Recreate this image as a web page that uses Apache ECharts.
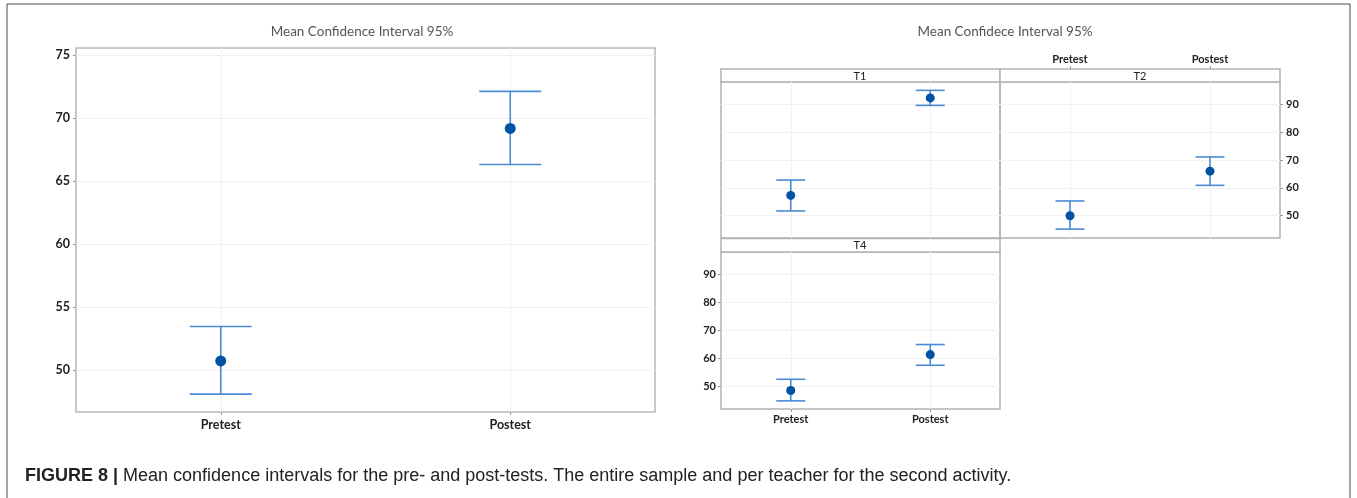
<!DOCTYPE html>
<html>
<head>
<meta charset="utf-8">
<script src="https://cdn.jsdelivr.net/npm/echarts@6/dist/echarts.min.js"></script>
<style>
  html, body { margin: 0; padding: 0; background: #fff; }
  #chart { width: 1357px; height: 498px; }
</style>
</head>
<body>
<div id="chart"></div>
<script>
// 数据
var categories = ['Pretest', 'Postest'];

var allMean = [50.71, 69.19];
var allLower = [48.07, 66.32];
var allUpper = [53.44, 72.13];

var t1Mean = [57.3, 92.3];
var t1Lower = [51.7, 89.6];
var t1Upper = [62.8, 95.0];

var t2Mean = [50.0, 66.0];
var t2Lower = [45.2, 60.9];
var t2Upper = [55.3, 71.1];

var t4Mean = [48.6, 61.4];
var t4Lower = [44.9, 57.6];
var t4Upper = [52.6, 65.0];

var allTicks = [50, 55, 60, 65, 70, 75];
var panelTicks = [50, 60, 70, 80, 90];

var barColor = '#4a8bd4';
var dotColor = '#0052a5';
var gridLineColor = '#f1f1f1';
var borderColor = '#b3b3b3';
var labelFont = 'Lato, "Open Sans", sans-serif';
var captionFont = '"Liberation Sans", Arial, sans-serif';

/**
 * 误差线 custom series
 */
function errorSeries(idx, lower, upper, capHalf) {
    var data = [];
    for (var i = 0; i < categories.length; i++) {
        data.push([i, lower[i], upper[i]]);
    }
    return {
        type: 'custom',
        xAxisIndex: idx,
        yAxisIndex: idx,
        data: data,
        z: 3,
        renderItem: function (params, api) {
            var lo = api.coord([api.value(0), api.value(1)]);
            var hi = api.coord([api.value(0), api.value(2)]);
            var st = { stroke: barColor, lineWidth: 1.6 };
            return {
                type: 'group',
                children: [
                    { type: 'line', shape: { x1: hi[0], y1: hi[1], x2: lo[0], y2: lo[1] }, style: st },
                    { type: 'line', shape: { x1: hi[0] - capHalf, y1: hi[1], x2: hi[0] + capHalf, y2: hi[1] }, style: st },
                    { type: 'line', shape: { x1: lo[0] - capHalf, y1: lo[1], x2: lo[0] + capHalf, y2: lo[1] }, style: st }
                ]
            };
        }
    };
}

function meanSeries(idx, mean, size) {
    return {
        type: 'scatter',
        xAxisIndex: idx,
        yAxisIndex: idx,
        symbolSize: size,
        itemStyle: { color: dotColor, opacity: 1 },
        z: 4,
        data: mean.map(function (v, i) { return [i, v]; }),
        markLine: {
            silent: true,
            symbol: 'none',
            label: { show: false },
            lineStyle: { color: gridLineColor, type: 'solid', width: 1 },
            z: 1,
            data: categories.map(function (c) { return { xAxis: c }; })
        }
    };
}

function xAxisOf(idx, pos, showLabel, fontSize, margin, offset) {
    return {
        type: 'category',
        gridIndex: idx,
        data: categories,
        position: pos,
        offset: offset || 0,
        boundaryGap: true,
        axisLine: { show: false },
        axisTick: { show: showLabel, alignWithLabel: true, length: 3, lineStyle: { color: '#999' } },
        axisLabel: {
            show: showLabel, margin: margin, color: '#222',
            fontFamily: labelFont, fontWeight: 'bold', fontSize: fontSize
        },
        splitLine: { show: false }
    };
}

function yAxisOf(idx, pos, showLabel, min, max, ticks, fontSize, margin) {
    return {
        type: 'value',
        gridIndex: idx,
        position: pos,
        min: min,
        max: max,
        axisLine: { show: false },
        axisTick: { show: showLabel, length: 3, customValues: ticks, lineStyle: { color: '#999' } },
        axisLabel: {
            show: showLabel, customValues: ticks, margin: margin, color: '#222',
            fontFamily: labelFont, fontWeight: 'bold', fontSize: fontSize
        },
        splitLine: { show: true, lineStyle: { color: gridLineColor, width: 1 } }
    };
}

var myChart = echarts.init(document.getElementById('chart'));

var option = {
    backgroundColor: '#fff',
    animation: false,
    title: [
        {
            text: 'Mean Confidence Interval 95%', left: 357, top: 20, textAlign: 'center',
            textStyle: { fontFamily: labelFont, fontWeight: 'normal', fontSize: 13.5, color: '#555' }
        },
        {
            text: 'Mean Confidece Interval 95%', left: 1000, top: 20, textAlign: 'center',
            textStyle: { fontFamily: labelFont, fontWeight: 'normal', fontSize: 13.5, color: '#555' }
        }
    ],
    grid: [
        { left: 76, top: 48, width: 579, height: 364, show: true, borderColor: '#b8b8b8', borderWidth: 1.5, outerBoundsMode: 'none' },
        { left: 721, top: 82, width: 279, height: 156, show: true, borderColor: borderColor, borderWidth: 1.5, outerBoundsMode: 'none' },
        { left: 1000, top: 82, width: 280, height: 156, show: true, borderColor: borderColor, borderWidth: 1.5, outerBoundsMode: 'none' },
        { left: 721, top: 252, width: 279, height: 157, show: true, borderColor: borderColor, borderWidth: 1.5, outerBoundsMode: 'none' }
    ],
    xAxis: [
        xAxisOf(0, 'bottom', true, 12.5, 6),
        xAxisOf(1, 'top', false, 11, 4),
        xAxisOf(2, 'top', true, 11, 4, 13),
        xAxisOf(3, 'bottom', true, 11, 5)
    ],
    yAxis: [
        yAxisOf(0, 'left', true, 46.65, 75.58, allTicks, 12.5, 6),
        yAxisOf(1, 'left', false, 42, 98, panelTicks, 11, 5),
        yAxisOf(2, 'right', true, 42, 98, panelTicks, 11, 6),
        yAxisOf(3, 'left', true, 42, 98, panelTicks, 11, 5)
    ],
    series: [
        errorSeries(0, allLower, allUpper, 31),
        meanSeries(0, allMean, 11),
        errorSeries(1, t1Lower, t1Upper, 14.5),
        meanSeries(1, t1Mean, 9),
        errorSeries(2, t2Lower, t2Upper, 14.5),
        meanSeries(2, t2Mean, 9),
        errorSeries(3, t4Lower, t4Upper, 14.5),
        meanSeries(3, t4Mean, 9)
    ],
    graphic: [
        // 外框
        { type: 'rect', shape: { x: 7, y: 4, width: 1343, height: 520 }, style: { fill: null, stroke: '#444', lineWidth: 1 }, silent: true },
        // 面板标题条
        { type: 'rect', shape: { x: 721, y: 69, width: 279, height: 13 }, style: { fill: '#fff', stroke: borderColor, lineWidth: 1.5 }, silent: true },
        { type: 'rect', shape: { x: 1000, y: 69, width: 280, height: 13 }, style: { fill: '#fff', stroke: borderColor, lineWidth: 1.5 }, silent: true },
        { type: 'rect', shape: { x: 721, y: 238.5, width: 279, height: 13.5 }, style: { fill: '#fff', stroke: borderColor, lineWidth: 1.5 }, silent: true },
        { type: 'text', x: 860, y: 76, style: { text: 'T1', fill: '#222', font: '11px ' + labelFont, textAlign: 'center', textVerticalAlign: 'middle' }, silent: true },
        { type: 'text', x: 1140, y: 76, style: { text: 'T2', fill: '#222', font: '11px ' + labelFont, textAlign: 'center', textVerticalAlign: 'middle' }, silent: true },
        { type: 'text', x: 860, y: 245.5, style: { text: 'T4', fill: '#222', font: '11px ' + labelFont, textAlign: 'center', textVerticalAlign: 'middle' }, silent: true },
        // 图注
        {
            type: 'text', x: 25, y: 476, silent: true,
            style: {
                text: '{b|FIGURE 8 |} Mean confidence intervals for the pre- and post-tests. The entire sample and per teacher for the second activity.',
                textVerticalAlign: 'middle',
                font: '18px ' + captionFont,
                fill: '#222',
                rich: {
                    b: { fontWeight: 'bold', fontSize: 18, fontFamily: captionFont, fill: '#222' }
                }
            }
        }
    ]
};

myChart.setOption(option);
</script>
</body>
</html>
